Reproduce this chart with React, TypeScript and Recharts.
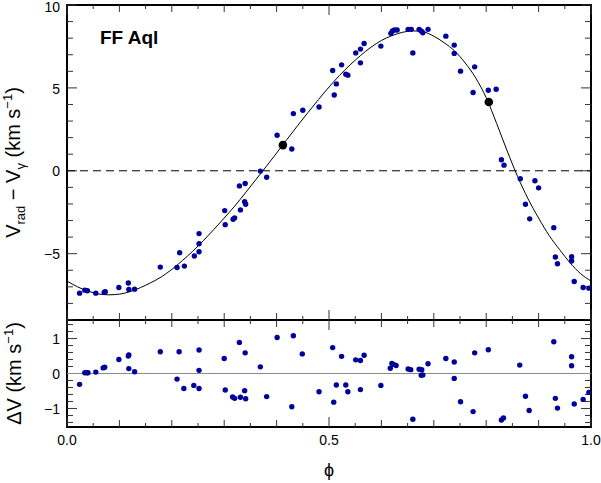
import React from 'react';
import { ComposedChart, Scatter, Line, XAxis, YAxis, ReferenceLine, ReferenceArea } from 'recharts';

const curvePhase = [0, 0.02, 0.04, 0.06, 0.08, 0.1, 0.12, 0.14, 0.16, 0.18, 0.2, 0.22, 0.24, 0.26, 0.28, 0.3, 0.32, 0.34, 0.36, 0.38, 0.4, 0.42, 0.44, 0.46, 0.48, 0.5, 0.52, 0.54, 0.56, 0.58, 0.6, 0.62, 0.64, 0.66, 0.68, 0.7, 0.72, 0.74, 0.76, 0.78, 0.8, 0.82, 0.84, 0.86, 0.88, 0.9, 0.92, 0.94, 0.96, 0.98, 1];
const curveVel = [-6.65, -7.0, -7.25, -7.43, -7.48, -7.44, -7.29, -7.05, -6.75, -6.4, -5.95, -5.42, -4.85, -4.22, -3.55, -2.85, -2.13, -1.35, -0.55, 0.25, 1.07, 1.9, 2.72, 3.52, 4.3, 5.05, 5.75, 6.38, 6.95, 7.45, 7.86, 8.15, 8.35, 8.44, 8.38, 8.12, 7.72, 7.22, 6.5, 5.6, 4.41, 2.85, 1.2, -0.35, -1.7, -2.85, -3.9, -4.75, -5.55, -6.2, -6.65];

const obsPhase = [0.024, 0.034, 0.039, 0.055, 0.071, 0.073, 0.099, 0.117, 0.118, 0.129, 0.178, 0.21, 0.215, 0.224, 0.243, 0.252, 0.252, 0.252,
  0.301, 0.302, 0.317, 0.32, 0.329, 0.331, 0.339, 0.341, 0.34, 0.369, 0.381,
  0.401, 0.429, 0.432, 0.45, 0.481, 0.51, 0.514, 0.507, 0.524, 0.532, 0.536, 0.551, 0.56, 0.56, 0.567, 0.599, 0.618, 0.621, 0.625, 0.63,
  0.651, 0.657, 0.672, 0.676, 0.679, 0.689, 0.66, 0.723, 0.739, 0.739, 0.751, 0.778, 0.775, 0.804, 0.819, 0.829,
  0.834, 0.865, 0.893, 0.9, 0.875, 0.883, 0.929, 0.932, 0.936, 0.963, 0.963, 0.968, 0.985, 0.996];
const obsVel = [-7.38, -7.2, -7.24, -7.38, -7.32, -7.3, -7.04, -6.77, -7.16, -7.14, -5.81, -5.83, -4.94, -5.75, -5.14, -3.79, -4.4, -4.88,
  -2.4, -3.25, -2.92, -2.84, -0.91, -2.36, -1.86, -2.02, -0.77, -0.02, -0.39,
  2.14, 1.31, 3.45, 3.65, 3.85, 4.57, 5.24, 6.05, 6.39, 5.83, 5.77, 7.11, 6.51, 7.34, 7.68, 7.52, 8.29, 8.43, 8.49, 8.49,
  8.53, 8.53, 8.53, 8.43, 8.33, 8.53, 7.11, 8.12, 7.58, 7.08, 6.01, 6.27, 4.72, 4.86, 4.92, 0.67,
  0.34, -0.48, -0.6, -1.03, -2.02, -2.9, -3.43, -5.2, -5.61, -5.18, -5.44, -6.68, -7.04, -7.08];

const resPhase = [0.024, 0.034, 0.038, 0.04, 0.055, 0.069, 0.072, 0.099, 0.117, 0.118, 0.118, 0.129, 0.178, 0.21, 0.214, 0.223, 0.242, 0.252, 0.252, 0.252,
  0.3, 0.302, 0.316, 0.32, 0.329, 0.331, 0.34, 0.339, 0.341, 0.369, 0.381, 0.401, 0.432, 0.429, 0.449, 0.481, 0.507, 0.509, 0.514, 0.524, 0.532, 0.536, 0.551, 0.56, 0.56, 0.567, 0.599, 0.617, 0.62, 0.623, 0.628,
  0.651, 0.656, 0.66, 0.672, 0.677, 0.676, 0.679, 0.689, 0.723, 0.739, 0.739, 0.751, 0.778, 0.775, 0.804, 0.829, 0.833, 0.864, 0.875, 0.882, 0.929, 0.932, 0.936, 0.963, 0.963, 0.968, 0.985, 0.996];
const resVel = [-0.31, 0.02, 0.02, 0.02, 0.04, 0.16, 0.18, 0.4, 0.5, 0.53, 0.14, 0.05, 0.62, -0.16, 0.62, -0.43, -0.34, -0.43, 0.67, 0.09,
  0.43, -0.47, -0.67, -0.71, 0.89, -0.68, 0.59, -0.49, -0.72, 0.19, -0.66, 1.03, 1.08, -0.95, 0.56, -0.52, 0.74, -0.82, -0.33, 0.49, -0.33, -0.52, 0.39, 0.37, -0.46, 0.52, -0.34, 0.15, 0.29, 0.26, 0.23,
  0.13, 0.11, -1.31, 0.12, 0.11, -0.05, -0.04, 0.28, 0.43, 0.33, -0.14, -0.81, 0.59, -1.09, 0.68, -1.33, -1.27, 0.24, -0.65, -1.06, 0.91, -0.71, -0.99, 0.48, 0.22, -0.87, -0.74, -0.54];

const markPhase = [0.412, 0.805];
const markVel = [1.55, 4.15];

const phaseTicks = [0, 0.05, 0.1, 0.15, 0.2, 0.25, 0.3, 0.35, 0.4, 0.45, 0.5, 0.55, 0.6, 0.65, 0.7, 0.75, 0.8, 0.85, 0.9, 0.95, 1];
const phaseLabels = [0, 0.5, 1];
const velTicks = [-9, -8, -7, -6, -5, -4, -3, -2, -1, 0, 1, 2, 3, 4, 5, 6, 7, 8, 9, 10];
const velLabels = [-5, 0, 5, 10];
const resTicks = [-1.4, -1.2, -1, -0.8, -0.6, -0.4, -0.2, 0, 0.2, 0.4, 0.6, 0.8, 1, 1.2, 1.4];
const resLabels = [-1, 0, 1];
const phaseDomain = [0, 1];
const velDomain = [-9, 10];
const resDomain = [-1.53, 1.53];

const curveData = curvePhase.map((p, i) => ({ p, v: curveVel[i] }));
const obsData = obsPhase.map((p, i) => ({ p, v: obsVel[i] }));
const resData = resPhase.map((p, i) => ({ p, v: resVel[i] }));
const markData = markPhase.map((p, i) => ({ p, v: markVel[i] }));

const FONT = 'Liberation Sans, Arial, Helvetica, sans-serif';
const near = (a: number, b: number) => Math.abs(a - b) < 1e-6;
const isMult = (v: number, m: number) => near(v / m, Math.round(v / m));

const phaseLen = (v: number) => (isMult(v, 0.5) ? 10 : isMult(v, 0.1) ? 7 : 4);
const velLen = (v: number) => (isMult(v, 5) ? 10 : 6);
const resLen = (v: number) => (isMult(v, 1) ? 10 : 6);
const fmtNum = (v: number) => (v < 0 ? '\u2212' + Math.abs(v) : String(v));
const fmtPhase = (v: number) => v.toFixed(1);
const TICK_COLOR = '#333';

// inward tick marks on all four frame edges, placed within the plot-area box
const tickMarksPath = (vb: any, yTicks: number[], yDom: number[], yLen: (v: number) => number) => {
  let d = '';
  const left = vb.x;
  const right = vb.x + vb.width;
  const top = vb.y;
  const bottom = vb.y + vb.height;
  yTicks.forEach((v) => {
    const y = top + ((yDom[1] - v) / (yDom[1] - yDom[0])) * vb.height;
    const l = yLen(v);
    d += `M${left},${y}h${l}M${right},${y}h${-l}`;
  });
  phaseTicks.forEach((p) => {
    const x = left + ((p - phaseDomain[0]) / (phaseDomain[1] - phaseDomain[0])) * vb.width;
    const l = phaseLen(p);
    d += `M${x},${top}v${l}M${x},${bottom}v${-l}`;
  });
  return <path d={d} stroke={TICK_COLOR} strokeWidth={1} fill="none" />;
};

const leftTick = (labels: number[]) => (props: any) => {
  const x = Number(props.x);
  const y = Number(props.y);
  const v = props.payload.value;
  if (!labels.some((l) => near(l, v))) return <g />;
  return (
    <text x={x - 7} y={Math.max(y + 0.7, 7)} textAnchor="end" dominantBaseline="central" fontSize={14} fontFamily={FONT} fill="#000">{fmtNum(v)}</text>
  );
};
const bottomTick = (labels: number[]) => (props: any) => {
  const x = Number(props.x);
  const y = Number(props.y);
  const v = props.payload.value;
  if (!labels.some((l) => near(l, v))) return <g />;
  return (
    <text x={x} y={y + 18} textAnchor="middle" fontSize={14} fontFamily={FONT} fill="#000">{fmtPhase(v)}</text>
  );
};
const velTickLabel = leftTick(velLabels);
const resTickLabel = leftTick(resLabels);
const phaseTickLabel = bottomTick(phaseLabels);
const noTick = () => <g />;

const blueDot = (props: any) => <circle cx={props.cx} cy={props.cy} r={2.7} fill="#00009c" />;
const blackDot = (props: any) => <circle cx={props.cx} cy={props.cy} r={4.3} fill="#000" />;

const topYLabel = (props: any) => {
  const vb = props.viewBox;
  const cy = vb.y + vb.height / 2;
  return (
    <text transform={`translate(${vb.x + 20}, ${cy}) rotate(-90)`} textAnchor="middle" fontSize={20} fontFamily={FONT} fill="#000">
      V<tspan dy={5} fontSize={13}>rad</tspan>
      <tspan dy={-5}>{' \u2212 V'}</tspan>
      <tspan dy={5} fontSize={13}>γ</tspan>
      <tspan dy={-5}>{' (km s'}</tspan>
      <tspan dy={-8} fontSize={13}>{'\u22121'}</tspan>
      <tspan dy={8}>)</tspan>
    </text>
  );
};

const bottomYLabel = (props: any) => {
  const vb = props.viewBox;
  const cy = vb.y + vb.height / 2;
  return (
    <text transform={`translate(${vb.x + 21}, ${cy}) rotate(-90)`} textAnchor="middle" fontSize={20} fontFamily={FONT} fill="#000">
      {'ΔV (km s'}
      <tspan dy={-8} fontSize={13}>{'\u22121'}</tspan>
      <tspan dy={8}>)</tspan>
    </text>
  );
};

const topFrameLabel = (props: any) => {
  const vb = props.viewBox;
  return (
    <g>
      {tickMarksPath(vb, velTicks, velDomain, velLen)}
      <text x={vb.x + 33} y={vb.y + 39} fontSize={19} fontWeight="bold" fontFamily={FONT} fill="#000">FF Aql</text>
    </g>
  );
};

const bottomFrameLabel = (props: any) => {
  const vb = props.viewBox;
  return <g>{tickMarksPath(vb, resTicks, resDomain, resLen)}</g>;
};

const phiLabel = (props: any) => {
  const vb = props.viewBox;
  return (
    <text x={vb.x + vb.width / 2} y={vb.y + 49} textAnchor="middle" fontSize={18} fontFamily={FONT} fill="#000">ϕ</text>
  );
};

const topFrameLab = { content: topFrameLabel };
const botFrameLab = { content: bottomFrameLabel };
const topYLab = { content: topYLabel };
const botYLab = { content: bottomYLabel };
const phiLab = { content: phiLabel };

export default function App() {
  return (
    <div style={{ position: 'absolute', left: 0, top: 0, width: 601, height: 483, background: '#fff' }}>
      <div style={{ position: 'absolute', left: 0, top: 0 }}>
        <ComposedChart width={601} height={321} margin={{ top: 5, right: 10, bottom: 1, left: 0 }}>
          <XAxis xAxisId="b" dataKey="p" type="number" domain={phaseDomain} allowDataOverflow ticks={phaseTicks} interval={0}
            orientation="bottom" height={0} tickSize={0} tickMargin={0} axisLine={false} tickLine={false} tick={noTick} />
          <YAxis yAxisId="l" dataKey="v" type="number" domain={velDomain} allowDataOverflow ticks={velTicks} interval={0}
            orientation="left" width={67} tickSize={0} tickMargin={0} axisLine={false} tickLine={false}
            tick={velTickLabel} label={topYLab} />
          <ReferenceLine xAxisId="b" yAxisId="l" y={0} stroke="#000" strokeWidth={1} strokeDasharray="8 5" />
          <Line xAxisId="b" yAxisId="l" data={curveData} dataKey="v" type="monotone" stroke="#000" strokeWidth={1}
            dot={false} activeDot={false} isAnimationActive={false} />
          <Scatter xAxisId="b" yAxisId="l" data={obsData} shape={blueDot} isAnimationActive={false} />
          <Scatter xAxisId="b" yAxisId="l" data={markData} shape={blackDot} isAnimationActive={false} />
          <ReferenceArea xAxisId="b" yAxisId="l" x1={phaseDomain[0]} x2={phaseDomain[1]} y1={velDomain[0]} y2={velDomain[1]}
            fill="none" fillOpacity={0} stroke="#000" strokeWidth={2} ifOverflow="visible" label={topFrameLab} />
        </ComposedChart>
      </div>
      <div style={{ position: 'absolute', left: 0, top: 320 }}>
        <ComposedChart width={601} height={163} margin={{ top: 0, right: 10, bottom: 0, left: 0 }}>
          <XAxis xAxisId="b" dataKey="p" type="number" domain={phaseDomain} allowDataOverflow ticks={phaseTicks} interval={0}
            orientation="bottom" height={56} tickSize={0} tickMargin={0} axisLine={false} tickLine={false}
            tick={phaseTickLabel} label={phiLab} />
          <YAxis yAxisId="l" dataKey="v" type="number" domain={resDomain} allowDataOverflow ticks={resTicks} interval={0}
            orientation="left" width={67} tickSize={0} tickMargin={0} axisLine={false} tickLine={false}
            tick={resTickLabel} label={botYLab} />
          <ReferenceLine xAxisId="b" yAxisId="l" y={0} stroke="#8a8a8a" strokeWidth={1} />
          <Scatter xAxisId="b" yAxisId="l" data={resData} shape={blueDot} isAnimationActive={false} />
          <ReferenceArea xAxisId="b" yAxisId="l" x1={phaseDomain[0]} x2={phaseDomain[1]} y1={resDomain[0]} y2={resDomain[1]}
            fill="none" fillOpacity={0} stroke="#000" strokeWidth={2} ifOverflow="visible" label={botFrameLab} />
        </ComposedChart>
      </div>
    </div>
  );
}
